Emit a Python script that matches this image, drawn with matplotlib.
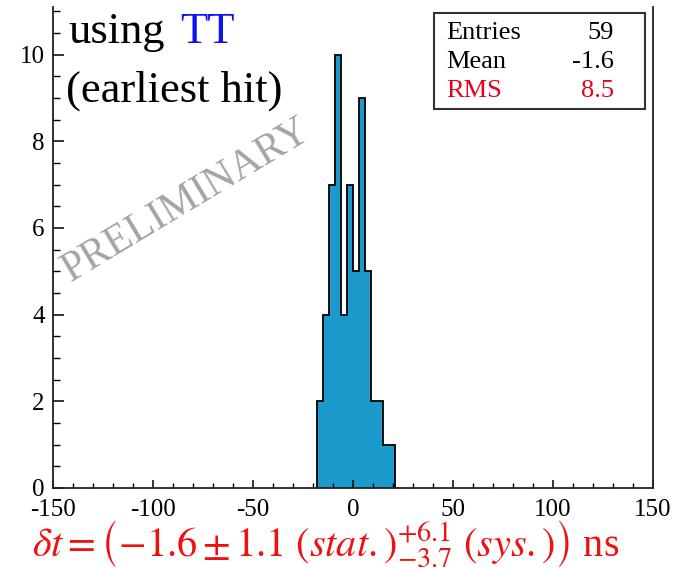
import numpy as np
import matplotlib
matplotlib.use("Agg")
import matplotlib.pyplot as plt
from matplotlib.ticker import MultipleLocator

# Data: histogram of delta t (ns), bin width 3 ns
bin_edges = [-18, -15, -12, -9, -6, -3, 0, 3, 6, 9, 12, 15, 18, 21]
counts = [2, 4, 7, 10, 4, 7, 5, 9, 5, 2, 2, 1, 1]

stats_labels = ["Entries", "Mean", "RMS"]
stats_values = ["59", "-1.6", "8.5"]
stats_colors = ["black", "black", "#e8001c"]

x_ticks = [-150, -100, -50, 0, 50, 100, 150]
y_ticks = [0, 2, 4, 6, 8, 10]

plt.rcParams['font.family'] = ['Liberation Serif', 'DejaVu Serif']
plt.rcParams['mathtext.fontset'] = 'stix'

W, H = 677, 568
fig = plt.figure(figsize=(W / 100, H / 100), dpi=100)
ax = fig.add_axes([53 / W, 1 - 488 / H, 600 / W, 481 / H])

ax.stairs(counts, bin_edges, fill=True, color='#1b9acb', lw=0)
ax.stairs(counts, bin_edges, fill=False, color='black', lw=1.3, baseline=0)

ax.set_xlim(-150, 150)
ax.set_ylim(0, 11.1)
ax.spines['top'].set_visible(False)
for s in ['left', 'bottom', 'right']:
    ax.spines[s].set_linewidth(1.3)
    ax.spines[s].set_color('#222222')

ax.set_xticks(x_ticks)
ax.set_yticks(y_ticks)
ax.xaxis.set_minor_locator(MultipleLocator(10))
ax.yaxis.set_minor_locator(MultipleLocator(0.5))
ax.tick_params(axis='x', which='major', direction='in', length=6, width=1.1, labelsize=18, pad=8)
ax.tick_params(axis='x', which='minor', direction='in', length=3.5, width=1.0)
ax.tick_params(axis='y', which='major', direction='in', length=8, width=1.1, labelsize=18, pad=6)
ax.tick_params(axis='y', which='minor', direction='in', length=5, width=1.0)
ax.set_xticklabels([str(v) for v in x_ticks])
ax.set_yticklabels([str(v) for v in y_ticks])

# annotation text
def axfrac(px, py):
    return ((px - 53) / 600, (488 - py) / 481)

fx, fy = axfrac(68, 43.3)
ax.text(fx, fy, "using", transform=ax.transAxes, fontsize=32, va='baseline', ha='left', color='black')
fx2, _ = axfrac(180, 43.3)
ax.text(fx2, fy, "TT", transform=ax.transAxes, fontsize=32, va='baseline', ha='left', color='#0a14f0')
fx, fy = axfrac(66, 101.7)
ax.text(fx, fy, "(earliest hit)", transform=ax.transAxes, fontsize=32, va='baseline', ha='left', color='black')

# watermark
px, py = axfrac(187, 200)
ax.text(px, py, "PRELIMINARY", transform=ax.transAxes, fontsize=30, color='#a4a4a4',
        rotation=31, rotation_mode='anchor', ha='center', va='center')

# stats box
bx0, by0 = 434, 12.7
bx1, by1 = 645, 109
rect = plt.Rectangle((bx0 / W, 1 - by1 / H), (bx1 - bx0) / W, (by1 - by0) / H,
                     transform=fig.transFigure, fill=True, facecolor='white',
                     edgecolor='#333333', lw=1.5, zorder=5)
fig.add_artist(rect)
row_baselines = [39, 68, 97]
for lab, val, col, yb in zip(stats_labels, stats_values, stats_colors, row_baselines):
    fig.text(446 / W, 1 - yb / H, lab, fontsize=19, color=col, va='baseline', ha='left', zorder=6)
    fig.text(614 / W, 1 - yb / H, val, fontsize=19, color=col, va='baseline', ha='right', zorder=6)

# result formula
fig.text(32 / W, 1 - 556 / H,
         r'$\delta t = \left(-1.6 \pm 1.1\ (stat.)^{+6.1}_{-3.7}\ (sys.)\right)$ ns',
         fontsize=29, color='#f01010', va='baseline', ha='left')

fig.savefig("out.png", dpi=100)
